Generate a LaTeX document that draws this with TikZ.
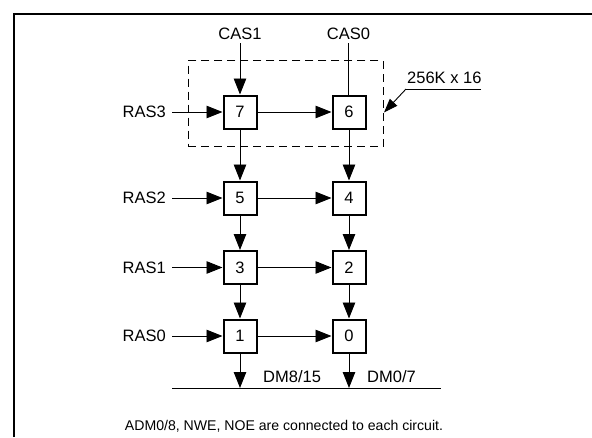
\documentclass[tikz,border=0pt]{standalone}
\usepackage{fontspec}
\setmainfont{Liberation Sans}
\usetikzlibrary{arrows.meta}
\begin{document}
\begin{tikzpicture}[x=1pt,y=-1pt,
  cell/.style={draw, line width=2pt, minimum size=33pt, inner sep=0pt, font=\fontsize{16.5}{19}\selectfont},
  lbl/.style={font=\fontsize{16.5}{19}\selectfont, inner sep=0pt},
  note/.style={font=\fontsize{14.1}{16}\selectfont, inner sep=0pt},
  conn/.style={line width=0.9pt},
  arr/.style={conn, -{Triangle[length=16pt,width=12.5pt]}},
  sarr/.style={conn, -{Triangle[length=14pt,width=10pt]}},
  group/.style={draw, dashed, dash pattern=on 8pt off 5pt, line width=0.9pt, inner sep=0pt},
]
\useasboundingbox (0,0) rectangle (592,437);
\draw[line width=2pt] (13.5,437) -- (13.5,13.5) -- (592,13.5);

\node[cell] (c7) at (240,112) {7};
\node[cell] (c6) at (349,112) {6};
\node[cell] (c5) at (240,198) {5};
\node[cell] (c4) at (349,198) {4};
\node[cell] (c3) at (240,267.5) {3};
\node[cell] (c2) at (349,267.5) {2};
\node[cell] (c1) at (240,336) {1};
\node[cell] (c0) at (349,336) {0};

\node[group, minimum width=195pt, minimum height=86pt] (grp) at (285.8,103.7) {};

\node[lbl] (k1) at (240,34) {CAS1};
\node[lbl] (k0) at (348.5,34) {CAS0};

\node[lbl, anchor=east] (r3) at (166,112) {RAS3};
\node[lbl, anchor=east] (r2) at (166,198) {RAS2};
\node[lbl, anchor=east] (r1) at (166,267.5) {RAS1};
\node[lbl, anchor=east] (r0) at (166,336) {RAS0};

\node[lbl, anchor=west] (size) at (407,78) {256K x 16};
\coordinate (sizeL) at (406,89);
\coordinate (sizeR) at (481,89);
\coordinate (tip) at (384,112.5);

\node[lbl, anchor=west] (d1) at (263,377) {DM8/15};
\node[lbl, anchor=west] (d0) at (367,377) {DM0/7};
\coordinate (busL) at (172,388);
\coordinate (busR) at (441,388);

\node[note] (fn) at (284,426) {ADM0/8, NWE, NOE are connected to each circuit.};

% column inputs
\draw[arr, shorten <=3pt] (k1) -- (c7);
\draw[conn, shorten <=3pt] (k0 |- k1.south) -- (k0 |- c6.north);

% row inputs
\draw[arr, shorten <=6pt] (r3) -- (c7);
\draw[arr, shorten <=6pt] (r2) -- (c5);
\draw[arr, shorten <=6pt] (r1) -- (c3);
\draw[arr, shorten <=6pt] (r0) -- (c1);

% horizontal chain
\draw[arr] (c7) -- (c6);
\draw[arr] (c5) -- (c4);
\draw[arr] (c3) -- (c2);
\draw[arr] (c1) -- (c0);

% vertical chain
\draw[arr] (c7) -- (c5);
\draw[arr] (c5) -- (c3);
\draw[arr] (c3) -- (c1);
\draw[arr] (c6) -- (c4);
\draw[arr] (c4) -- (c2);
\draw[arr] (c2) -- (c0);

% bus
\draw[conn] (busL) -- (busR);
\draw[arr] (c1) -- (c1 |- busL);
\draw[arr] (c0) -- (c0 |- busL);

% size callout
\draw[conn] (sizeR) -- (sizeL);
\draw[sarr] (sizeL) -- (tip);
\end{tikzpicture}
\end{document}
